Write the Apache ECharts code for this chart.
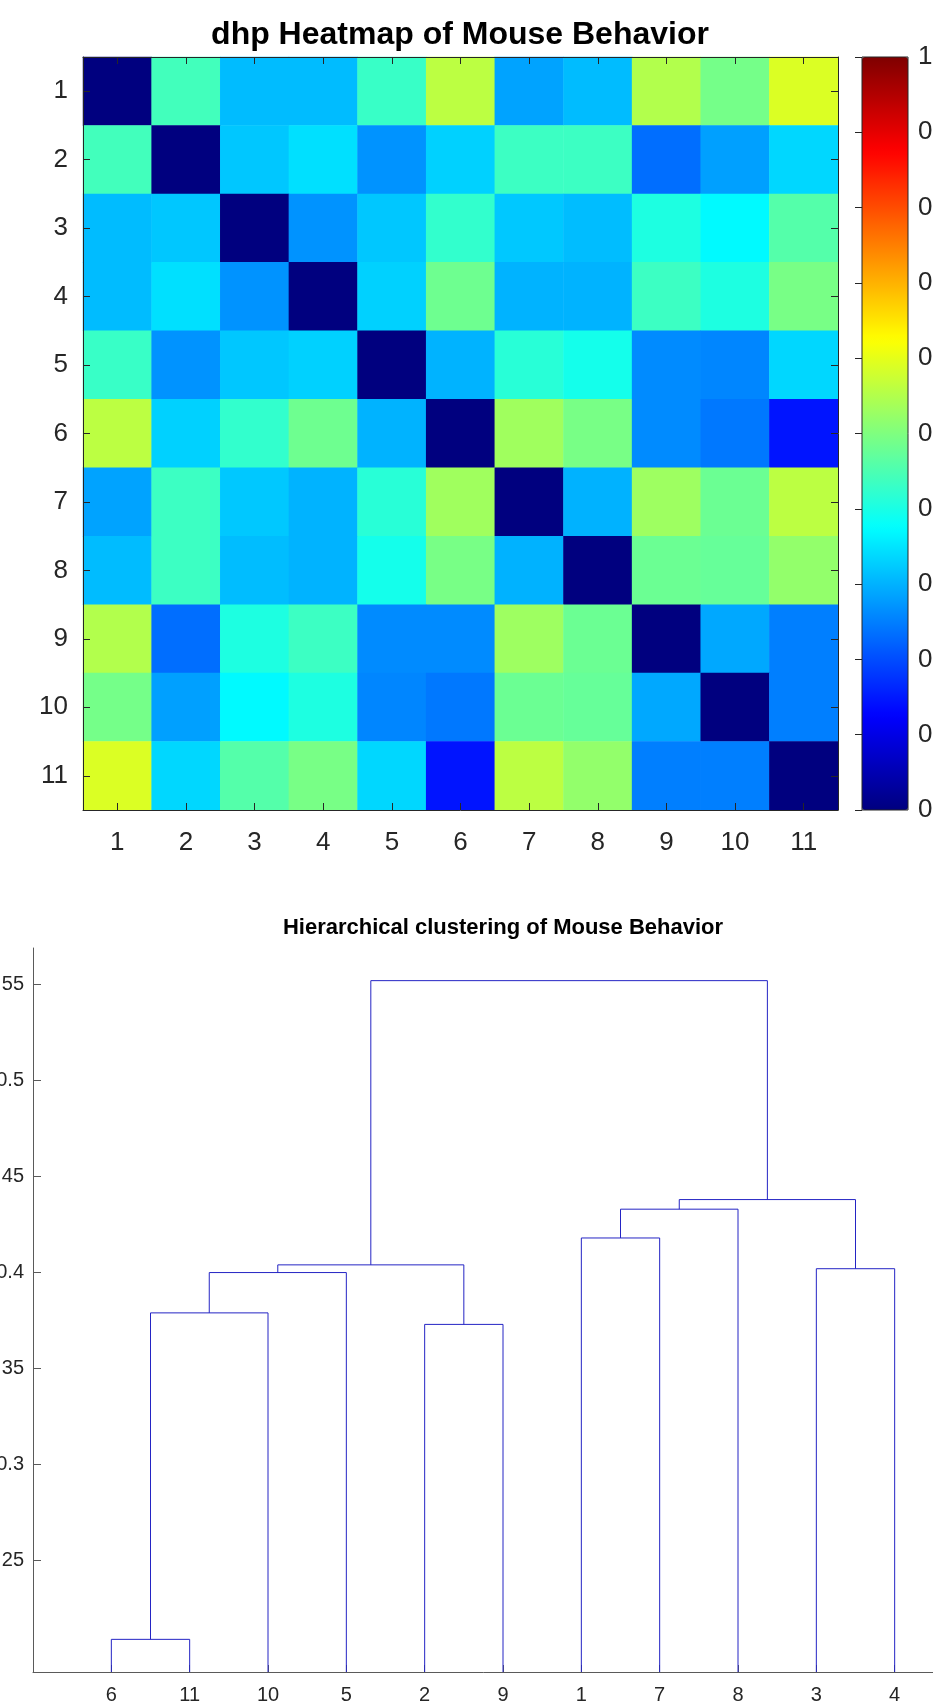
<!DOCTYPE html>
<html>
<head>
<meta charset="utf-8">
<script src="https://cdn.jsdelivr.net/npm/echarts@6/dist/echarts.min.js"></script>
<style>
html,body{margin:0;padding:0;background:#ffffff;}
#chart{width:933px;height:1705px;}
</style>
</head>
<body>
<div id="chart"></div>
<script>
// ---------- data ----------
const heatLabels = ['1','2','3','4','5','6','7','8','9','10','11'];
const dhpMatrix = [
  [0.000, 0.440, 0.310, 0.310, 0.430, 0.560, 0.285, 0.310, 0.550, 0.490, 0.590],
  [0.440, 0.000, 0.320, 0.345, 0.270, 0.330, 0.434, 0.434, 0.233, 0.282, 0.336],
  [0.310, 0.320, 0.000, 0.270, 0.320, 0.424, 0.321, 0.311, 0.404, 0.370, 0.458],
  [0.310, 0.345, 0.270, 0.000, 0.330, 0.483, 0.301, 0.301, 0.434, 0.404, 0.493],
  [0.430, 0.270, 0.320, 0.330, 0.000, 0.301, 0.414, 0.395, 0.262, 0.257, 0.336],
  [0.560, 0.330, 0.424, 0.483, 0.301, 0.000, 0.532, 0.493, 0.262, 0.243, 0.145],
  [0.285, 0.434, 0.321, 0.301, 0.414, 0.532, 0.000, 0.300, 0.530, 0.480, 0.560],
  [0.310, 0.434, 0.311, 0.301, 0.395, 0.493, 0.300, 0.000, 0.480, 0.475, 0.520],
  [0.550, 0.233, 0.404, 0.434, 0.262, 0.262, 0.530, 0.480, 0.000, 0.290, 0.250],
  [0.490, 0.282, 0.370, 0.404, 0.257, 0.243, 0.480, 0.475, 0.290, 0.000, 0.250],
  [0.590, 0.336, 0.458, 0.493, 0.336, 0.145, 0.560, 0.520, 0.250, 0.250, 0.000]
];
const colorbarRange = [0, 1];
const jetColors = ['#00007f','#0000ff','#007fff','#00ffff','#7fff7f','#ffff00','#ff7f00','#ff0000','#7f0000'];

// dendrogram: leaf order on the x axis, and linkage rows [childA, childB, height]
const leafOrder = ['6','11','10','5','2','9','1','7','8','3','4'];
const linkage = [
  [6, 11, 0.209],   // 12
  [2, 9, 0.373],    // 13
  [12, 10, 0.379],  // 14
  [14, 5, 0.400],   // 15
  [15, 13, 0.404],  // 16
  [3, 4, 0.402],    // 17
  [1, 7, 0.418],    // 18
  [18, 8, 0.433],   // 19
  [19, 17, 0.438],  // 20
  [16, 20, 0.552]   // 21
];
const dendroTicks = [0.25, 0.3, 0.35, 0.4, 0.45, 0.5, 0.55];
const dendroRange = [0.192, 0.569];

// ---------- build ----------
const heatData = [];
dhpMatrix.forEach((row, r) => row.forEach((v, c) => heatData.push([c, r, v])));

const nLeaves = leafOrder.length;
const nodeX = {}, nodeH = {};
leafOrder.forEach((lab, i) => { nodeX[+lab] = i + 1; nodeH[+lab] = dendroRange[0]; });
const links = linkage.map((row, k) => {
  const a = row[0], b = row[1], h = row[2];
  const id = nLeaves + 1 + k;
  nodeX[id] = (nodeX[a] + nodeX[b]) / 2;
  nodeH[id] = h;
  return [nodeX[a], nodeX[b], h, nodeH[a], nodeH[b]];
});
const leafPositions = leafOrder.map((_, i) => i + 1);

const FONT = 'Liberation Sans, Arial, Helvetica, sans-serif';
const AX = '#262626';
const DAX = '#5a5a5a';

const chart = echarts.init(document.getElementById('chart'), null, {renderer: 'canvas'});
chart.setOption({
  backgroundColor: '#ffffff',
  animation: false,
  title: [
    {text: 'dhp Heatmap of Mouse Behavior', left: 460, top: 19, textAlign: 'center', padding: 0,
     textStyle: {fontFamily: FONT, fontSize: 32, fontWeight: 'bold', color: '#000'}},
    {text: 'Hierarchical clustering of Mouse Behavior', left: 503, top: 917, textAlign: 'center', padding: 0,
     textStyle: {fontFamily: FONT, fontSize: 22, fontWeight: 'bold', color: '#000'}}
  ],
  grid: [
    {left: 83, top: 57, width: 755, height: 753, outerBoundsMode: 'none', containLabel: false},
    {left: 862, top: 57, width: 46, height: 753, show: true, borderColor: AX, borderWidth: 1,
     backgroundColor: 'transparent', z: 10, outerBoundsMode: 'none', containLabel: false},
    {left: 33, top: 948, width: 940, height: 724, outerBoundsMode: 'none', containLabel: false}
  ],
  visualMap: {
    type: 'continuous', seriesIndex: 0, min: colorbarRange[0], max: colorbarRange[1],
    inRange: {color: jetColors}, calculable: false, hoverLink: false,
    left: 862, top: 57, itemWidth: 46, itemHeight: 753, padding: 0,
    text: null, textStyle: {color: 'rgba(0,0,0,0)', fontSize: 1}, orient: 'vertical'
  },
  xAxis: [
    {gridIndex: 0, type: 'category', data: heatLabels, position: 'bottom', z: 6,
     axisLine: {show: true, lineStyle: {color: AX, width: 1}},
     axisTick: {show: true, inside: true, alignWithLabel: true, length: 7, lineStyle: {color: AX}},
     axisLabel: {fontFamily: FONT, fontSize: 26, color: AX, margin: 20},
     splitLine: {show: false}},
    {gridIndex: 0, type: 'category', data: heatLabels, position: 'top', z: 6,
     axisLine: {show: true, lineStyle: {color: AX, width: 1}},
     axisTick: {show: true, inside: true, alignWithLabel: true, length: 7, lineStyle: {color: AX}},
     axisLabel: {show: false}, splitLine: {show: false}},
    {gridIndex: 1, type: 'value', show: false, min: 0, max: 1},
    {gridIndex: 2, type: 'value', min: 0, max: 12, position: 'bottom',
     axisLine: {show: true, onZero: false, lineStyle: {color: DAX, width: 1}},
     axisTick: {show: true, inside: true, length: 7, customValues: leafPositions, lineStyle: {color: DAX}},
     axisLabel: {fontFamily: FONT, fontSize: 20, color: AX, margin: 13, customValues: leafPositions,
                 formatter: v => leafOrder[Math.round(v) - 1] || ''},
     splitLine: {show: false}}
  ],
  yAxis: [
    {gridIndex: 0, type: 'category', data: heatLabels, inverse: true, position: 'left', z: 6,
     axisLine: {show: true, lineStyle: {color: AX, width: 1}},
     axisTick: {show: true, inside: true, alignWithLabel: true, length: 7, lineStyle: {color: AX}},
     axisLabel: {fontFamily: FONT, fontSize: 26, color: AX, margin: 15},
     splitLine: {show: false}},
    {gridIndex: 0, type: 'category', data: heatLabels, inverse: true, position: 'right', z: 6,
     axisLine: {show: true, lineStyle: {color: AX, width: 1}},
     axisTick: {show: true, inside: true, alignWithLabel: true, length: 7, lineStyle: {color: AX}},
     axisLabel: {show: false}, splitLine: {show: false}},
    {gridIndex: 1, type: 'value', min: colorbarRange[0], max: colorbarRange[1], interval: 0.1, position: 'right', z: 11,
     axisLine: {show: false},
     axisTick: {show: true, inside: true, length: 7, lineStyle: {color: AX}},
     axisLabel: {fontFamily: FONT, fontSize: 26, color: AX, margin: 10},
     splitLine: {show: false}},
    {gridIndex: 2, type: 'value', min: dendroRange[0], max: dendroRange[1], position: 'left',
     axisLine: {show: true, onZero: false, lineStyle: {color: DAX, width: 1}},
     axisTick: {show: true, inside: true, length: 8, customValues: dendroTicks, lineStyle: {color: DAX}},
     axisLabel: {fontFamily: FONT, fontSize: 20, color: AX, margin: 9, customValues: dendroTicks,
                 formatter: v => String(+(+v).toFixed(2))},
     splitLine: {show: false}}
  ],
  series: [
    {type: 'heatmap', xAxisIndex: 0, yAxisIndex: 0, data: heatData,
     itemStyle: {borderWidth: 0}, emphasis: {disabled: true}, z: 2},
    {type: 'custom', xAxisIndex: 3, yAxisIndex: 3, data: links, silent: true, clip: false,
     renderItem: function (params, api) {
       const x1 = api.value(0), x2 = api.value(1), h = api.value(2), h1 = api.value(3), h2 = api.value(4);
       return {
         type: 'polyline',
         shape: {points: [api.coord([x1, h1]), api.coord([x1, h]), api.coord([x2, h]), api.coord([x2, h2])]},
         style: {stroke: '#2424c4', lineWidth: 1, fill: null}
       };
     }}
  ]
});
</script>
</body>
</html>
